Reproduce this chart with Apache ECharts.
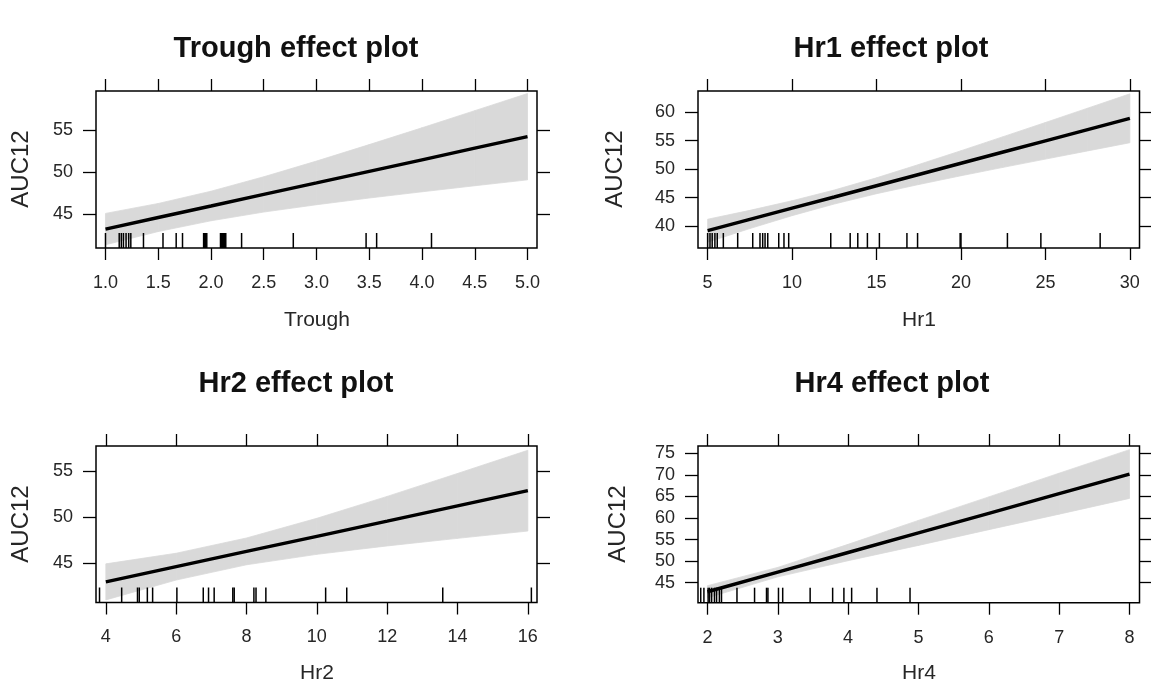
<!DOCTYPE html>
<html>
<head>
<meta charset="utf-8">
<script src="https://cdn.jsdelivr.net/npm/echarts@6/dist/echarts.min.js"></script>
<style>
html,body{margin:0;padding:0;background:#fff;}
#chart{width:1151px;height:691px;}
</style>
</head>
<body>
<div id="chart"></div>
<script>
// ---------- data ----------
// Trough
const troughX     = [1.0, 1.5, 2.0, 2.5, 3.0, 3.5, 4.0, 4.5, 5.0];
const troughFit   = [43.2, 44.58, 45.95, 47.33, 48.7, 50.08, 51.45, 52.83, 54.2];
const troughUpper = [45.07, 46.25, 47.71, 49.43, 51.3, 53.26, 55.26, 57.3, 59.34];
const troughLower = [41.33, 42.91, 44.19, 45.23, 46.1, 46.9, 47.64, 48.36, 49.06];
const troughRug   = [1.0, 1.13, 1.15, 1.17, 1.195, 1.22, 1.24, 1.36, 1.545, 1.67, 1.73,
                     1.93, 1.94, 1.95, 1.96, 2.09, 2.1, 2.11, 2.12, 2.13, 2.14, 2.29, 2.78,
                     3.47, 3.57, 4.09];
const troughTicks = [1.0, 1.5, 2.0, 2.5, 3.0, 3.5, 4.0, 4.5, 5.0];
const troughYTicks = [45, 50, 55];

// Hr1
const hr1X     = [5, 7.5, 10, 12.5, 15, 17.5, 20, 22.5, 25, 27.5, 30];
const hr1Fit   = [39.17, 41.15, 43.13, 45.1, 47.08, 49.06, 51.04, 53.02, 54.99, 56.97, 58.95];
const hr1Upper = [41.19, 42.75, 44.44, 46.33, 48.48, 50.82, 53.24, 55.72, 58.21, 60.73, 63.25];
const hr1Lower = [37.15, 39.55, 41.82, 43.87, 45.68, 47.3, 48.84, 50.32, 51.77, 53.21, 54.65];
const hr1Rug   = [5.0, 5.14, 5.27, 5.43, 5.57, 5.93, 6.78, 7.67, 8.1, 8.26, 8.4, 8.56,
                  9.21, 9.52, 9.8, 12.29, 13.44, 13.89, 14.46, 15.17, 16.8, 17.43,
                  19.95, 20.0, 22.75, 24.73, 28.24];
const hr1Ticks = [5, 10, 15, 20, 25, 30];
const hr1YTicks = [40, 45, 50, 55, 60];

// Hr2
const hr2X     = [4, 6, 8, 10, 12, 14, 16];
const hr2Fit   = [43.0, 44.65, 46.3, 47.93, 49.57, 51.22, 52.87];
const hr2Upper = [44.95, 46.1, 47.75, 49.88, 52.25, 54.73, 57.24];
const hr2Lower = [41.05, 43.2, 44.85, 45.98, 46.89, 47.71, 48.5];
const hr2Rug   = [3.82, 4.45, 4.9, 4.95, 5.18, 5.33, 6.02, 6.77, 6.92, 7.08, 7.61, 7.65,
                  8.21, 8.27, 8.55, 10.25, 10.85, 13.58, 16.1];
const hr2Ticks = [4, 6, 8, 10, 12, 14, 16];
const hr2YTicks = [45, 50, 55];

// Hr4
const hr4X     = [2, 3, 4, 5, 6, 7, 8];
const hr4Fit   = [42.9, 47.45, 52.0, 56.55, 61.1, 65.65, 70.2];
const hr4Upper = [44.3, 48.55, 53.9, 59.45, 64.9, 70.4, 75.85];
const hr4Lower = [41.5, 46.35, 50.1, 53.65, 57.3, 60.9, 64.55];
const hr4Rug   = [1.905, 1.95, 2.01, 2.03, 2.06, 2.1, 2.13, 2.17, 2.2, 2.42, 2.67, 2.84,
                  2.86, 3.01, 3.07, 3.46, 3.78, 3.94, 4.05, 4.41, 4.88];
const hr4Ticks = [2, 3, 4, 5, 6, 7, 8];
const hr4YTicks = [45, 50, 55, 60, 65, 70, 75];

const panelTitles = ['Trough effect plot', 'Hr1 effect plot', 'Hr2 effect plot', 'Hr4 effect plot'];
const xNames = ['Trough', 'Hr1', 'Hr2', 'Hr4'];
const yName = 'AUC12';

// ---------- layout / style ----------
const FONT = '"Liberation Sans", Arial, sans-serif';
const panels = [
  {x: troughX, fit: troughFit, up: troughUpper, lo: troughLower, rug: troughRug,
   xt: troughTicks, yt: troughYTicks, xr: [0.91, 5.09], yr: [40.95, 59.64], fmt: v => v.toFixed(1),
   grid: {left: 96, top: 91, width: 441, height: 157}, titleXY: [296, 49], xNameXY: [317, 320], yNameXY: [21, 169]},
  {x: hr1X, fit: hr1Fit, up: hr1Upper, lo: hr1Lower, rug: hr1Rug,
   xt: hr1Ticks, yt: hr1YTicks, xr: [4.43, 30.57], yr: [36.13, 63.75], fmt: v => String(v),
   grid: {left: 698, top: 91, width: 441.5, height: 157}, titleXY: [891, 49], xNameXY: [919, 320], yNameXY: [615, 169]},
  {x: hr2X, fit: hr2Fit, up: hr2Upper, lo: hr2Lower, rug: hr2Rug,
   xt: hr2Ticks, yt: hr2YTicks, xr: [3.72, 16.26], yr: [40.77, 57.7], fmt: v => String(v),
   grid: {left: 96, top: 446, width: 441, height: 156.5}, titleXY: [296, 384], xNameXY: [317, 673], yNameXY: [21, 524]},
  {x: hr4X, fit: hr4Fit, up: hr4Upper, lo: hr4Lower, rug: hr4Rug,
   xt: hr4Ticks, yt: hr4YTicks, xr: [1.866, 8.142], yr: [40.36, 76.7], fmt: v => String(v),
   grid: {left: 698, top: 446, width: 441.5, height: 156.7}, titleXY: [892, 384], xNameXY: [919, 673], yNameXY: [618, 524]}
];

const grids = [], xAxes = [], yAxes = [], series = [], graphics = [];
const tickStyle = {show: true, inside: false, length: 12, lineStyle: {color: '#000', width: 1.3}};
const labelStyle = {color: '#262626', fontSize: 18, fontFamily: FONT};

panels.forEach((p, i) => {
  grids.push(Object.assign({show: true, borderColor: '#000', borderWidth: 1.5, backgroundColor: 'transparent', containLabel: false}, p.grid));
  const ax = i * 2;
  xAxes.push({type: 'value', gridIndex: i, position: 'bottom', min: p.xr[0], max: p.xr[1],
    axisLine: {show: false}, splitLine: {show: false},
    axisTick: Object.assign({customValues: p.xt}, tickStyle),
    axisLabel: Object.assign({customValues: p.xt, margin: 26, formatter: p.fmt, showMinLabel: true, showMaxLabel: true}, labelStyle)});
  xAxes.push({type: 'value', gridIndex: i, position: 'top', min: p.xr[0], max: p.xr[1],
    axisLine: {show: false}, splitLine: {show: false},
    axisTick: Object.assign({customValues: p.xt}, tickStyle),
    axisLabel: {show: false}});
  yAxes.push({type: 'value', gridIndex: i, position: 'left', min: p.yr[0], max: p.yr[1],
    axisLine: {show: false}, splitLine: {show: false},
    axisTick: Object.assign({customValues: p.yt}, tickStyle, {length: 13}),
    axisLabel: Object.assign({customValues: p.yt, margin: 23}, labelStyle)});
  yAxes.push({type: 'value', gridIndex: i, position: 'right', min: p.yr[0], max: p.yr[1],
    axisLine: {show: false}, splitLine: {show: false},
    axisTick: Object.assign({customValues: p.yt}, tickStyle, {length: 13}),
    axisLabel: {show: false}});

  // confidence band
  const bandData = p.x.map((x, k) => [x, p.lo[k], p.up[k]]);
  series.push({
    type: 'custom', xAxisIndex: ax, yAxisIndex: ax, z: 1, silent: true,
    data: bandData.slice(0, -1).map((d, k) => [d[0], d[1], d[2], bandData[k + 1][0], bandData[k + 1][1], bandData[k + 1][2]]),
    encode: {x: [0, 3], y: [1, 2, 4, 5]},
    renderItem: (params, api) => {
      const a = api.coord([api.value(0), api.value(2)]);
      const b = api.coord([api.value(3), api.value(5)]);
      const c = api.coord([api.value(3), api.value(4)]);
      const d = api.coord([api.value(0), api.value(1)]);
      return {type: 'polygon', shape: {points: [a, b, c, d]},
        style: {fill: '#d9d9d9', stroke: '#d9d9d9', lineWidth: 0.8}};
    }
  });
  // rug
  series.push({
    type: 'custom', xAxisIndex: ax, yAxisIndex: ax, z: 3, silent: true,
    data: p.rug.map(v => [v, p.yr[0]]),
    encode: {x: 0, y: 1},
    renderItem: (params, api) => {
      const pt = api.coord([api.value(0), api.value(1)]);
      return {type: 'line', shape: {x1: pt[0], y1: pt[1], x2: pt[0], y2: pt[1] - 15},
        style: {stroke: '#000', lineWidth: 1.5}};
    }
  });
  // fitted line
  series.push({
    type: 'line', xAxisIndex: ax, yAxisIndex: ax, z: 4, silent: true,
    data: p.x.map((x, k) => [x, p.fit[k]]),
    showSymbol: false, symbol: 'none',
    lineStyle: {color: '#000', width: 3.4}
  });

  graphics.push({type: 'text', x: p.titleXY[0], y: p.titleXY[1],
    style: {text: panelTitles[i], align: 'center', verticalAlign: 'middle',
      font: 'bold 29px ' + FONT, fill: '#111'}});
  graphics.push({type: 'text', x: p.xNameXY[0], y: p.xNameXY[1],
    style: {text: xNames[i], align: 'center', verticalAlign: 'middle',
      font: '21px ' + FONT, fill: '#262626'}});
  graphics.push({type: 'text', x: p.yNameXY[0], y: p.yNameXY[1], rotation: Math.PI / 2,
    style: {text: yName, align: 'center', verticalAlign: 'middle',
      font: '24px ' + FONT, fill: '#262626'}});
});

const chart = echarts.init(document.getElementById('chart'), null, {renderer: 'canvas'});
chart.setOption({
  animation: false,
  backgroundColor: '#fff',
  grid: grids,
  xAxis: xAxes,
  yAxis: yAxes,
  series: series,
  graphic: graphics
});
</script>
</body>
</html>
